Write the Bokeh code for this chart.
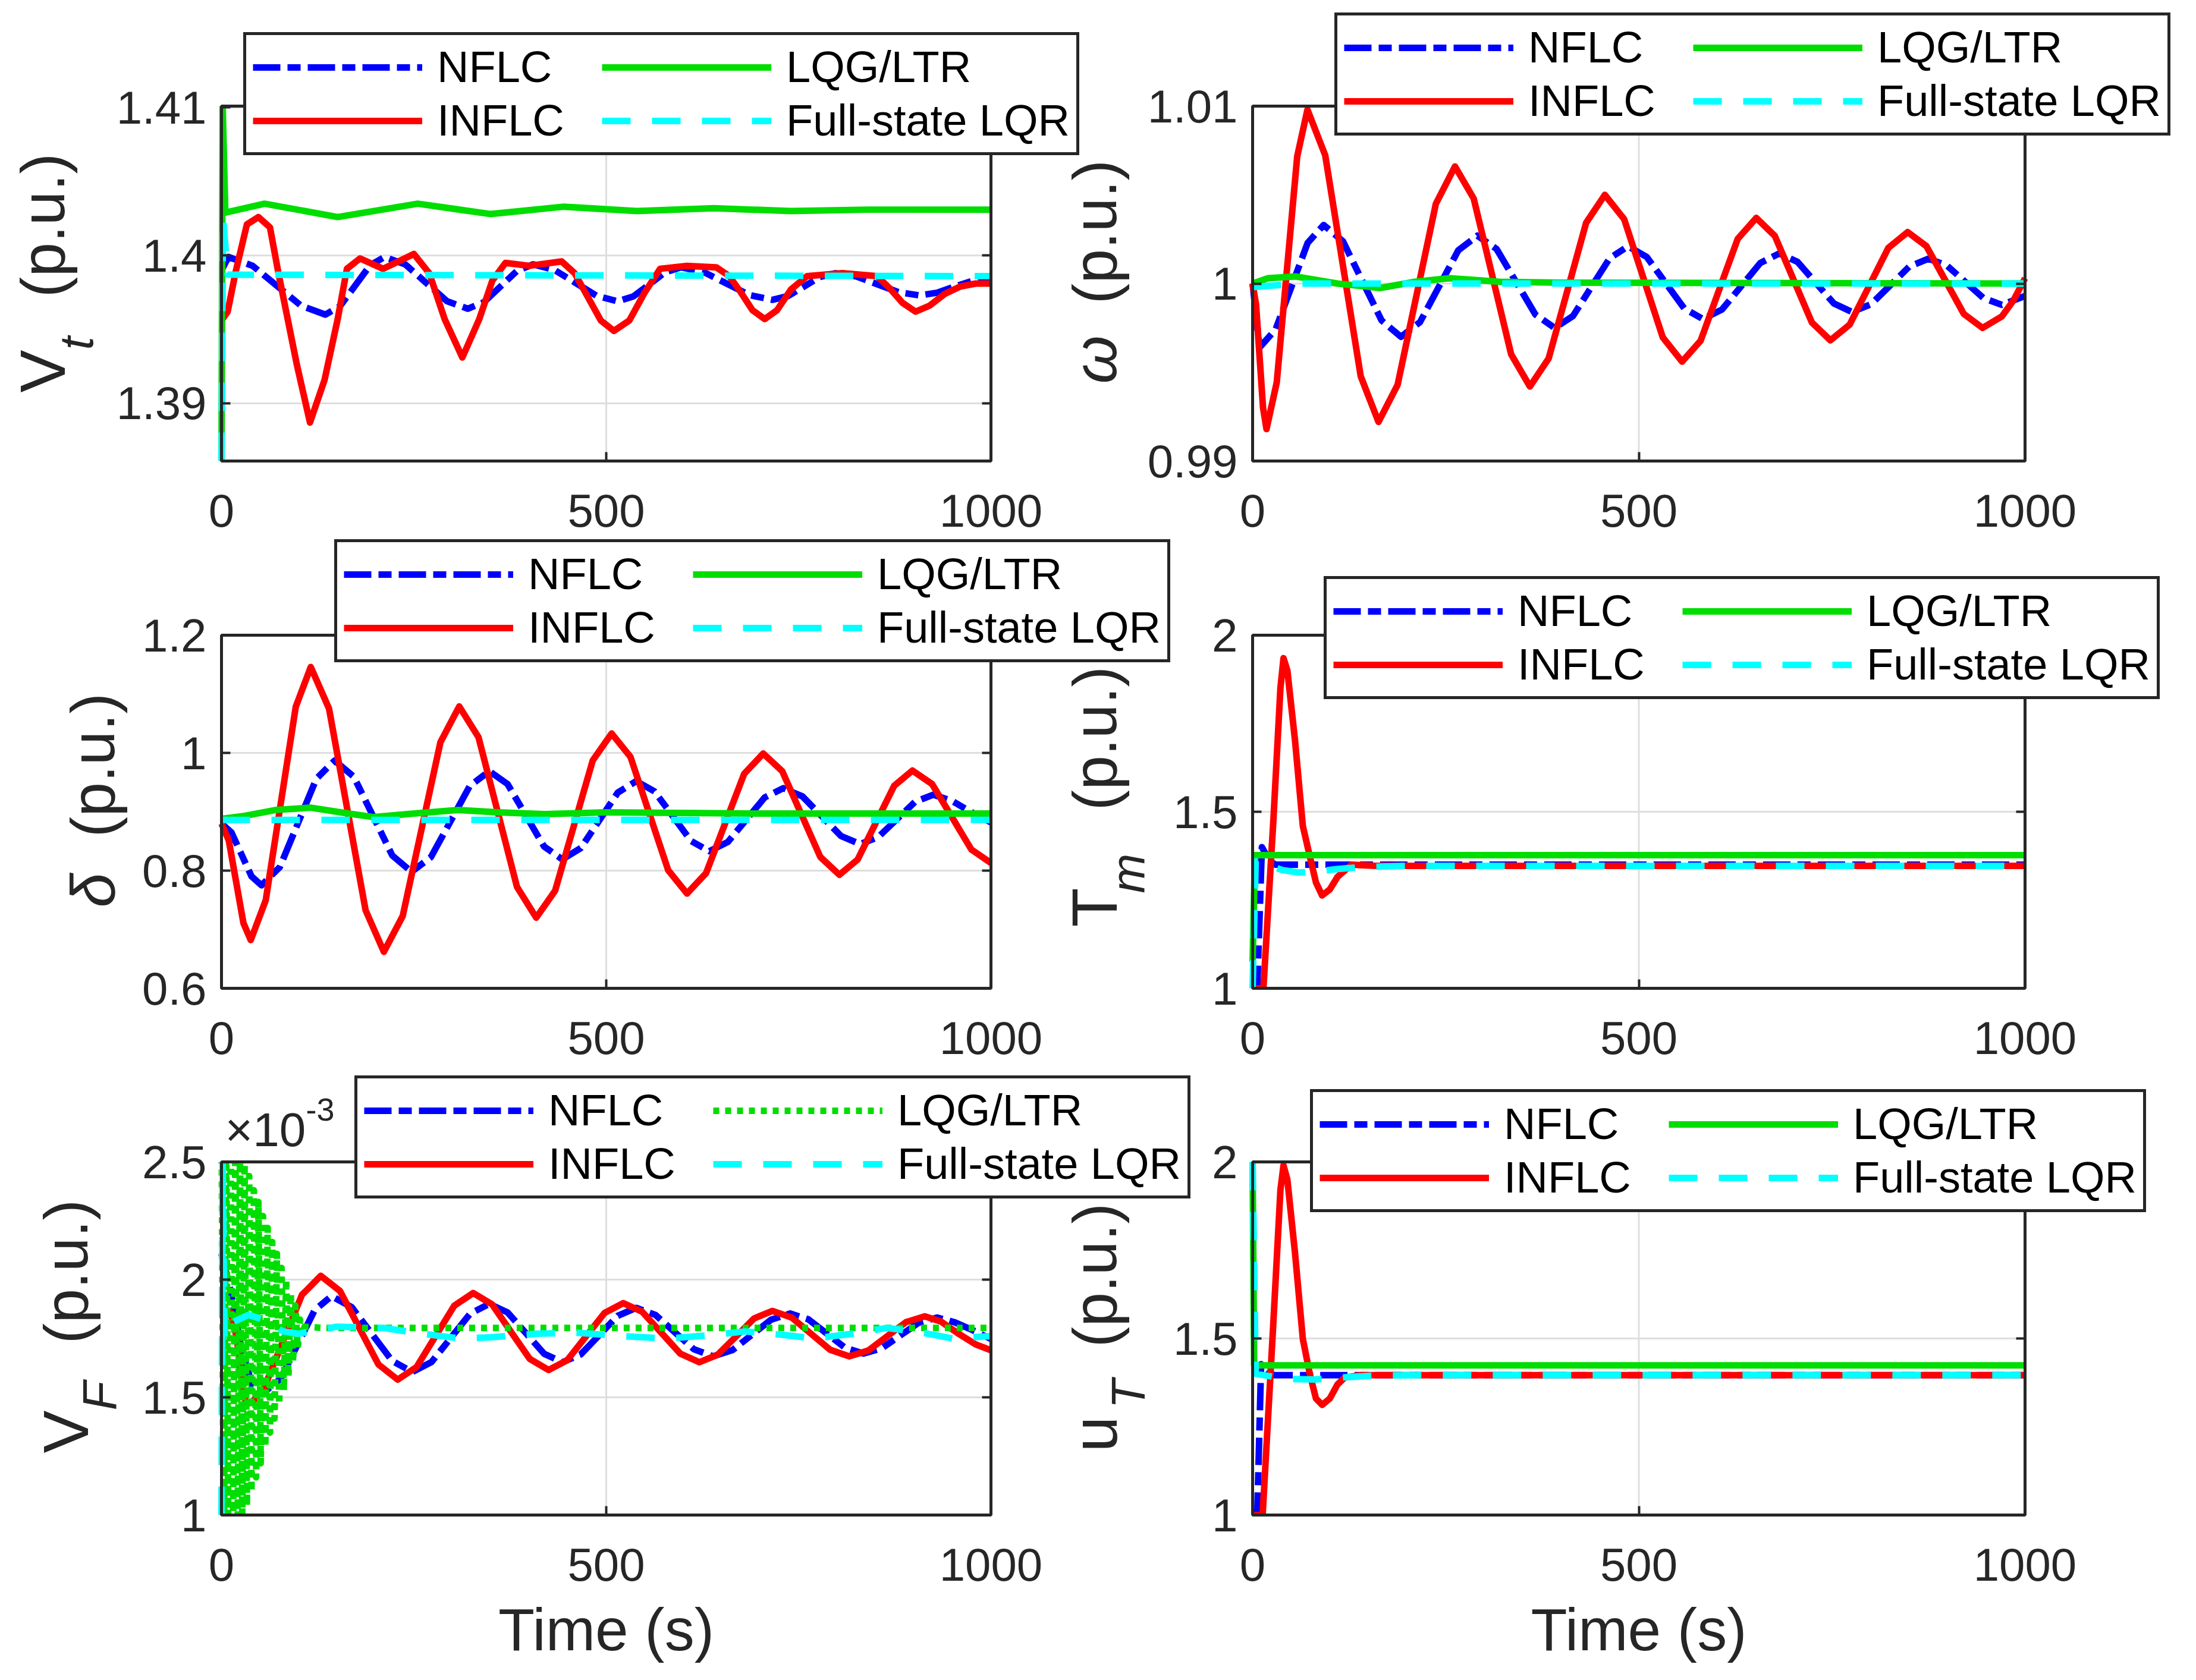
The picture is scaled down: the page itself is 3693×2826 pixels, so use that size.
from math import pi

from bokeh.embed import file_html
from bokeh.layouts import column, row
from bokeh.models import BoxAnnotation, FixedTicker, Label, Legend, LegendItem, LinearAxis, Range1d
from bokeh.plotting import figure
from bokeh.resources import INLINE

FONT = "Liberation Sans"
DARK = "#262626"
BLUE, RED, GREEN, CYAN = "#0000FF", "#FF0000", "#00DD00", "#00FFFF"

SERIES_NAMES = ["NFLC", "INFLC", "LQG/LTR", "Full-state LQR"]

x_ticks = [0, 500, 1000]
x_tick_labels = ["0", "500", "1000"]

# ---- V_t (p.u.) ----
vt_ticks = [1.39, 1.40, 1.41]
vt_tick_labels = ["1.39", "1.4", "1.41"]
vt_nflc_t = [0, 9, 40.5, 72, 103.5, 135, 154, 173.5, 193, 212, 239, 266, 293, 320, 341, 362.5, 384, 405,
             432.5, 460, 487.5, 515, 535.5, 556, 576.5, 597, 626.75, 656.5, 686.25, 716, 736.5, 757, 777.5,
             798, 825.25, 852.5, 879.75, 907, 930, 953, 977, 1000]
vt_nflc = [1.3990, 1.3999, 1.3993, 1.39795, 1.3966, 1.3960, 1.39657, 1.39795, 1.39933, 1.3999, 1.39939,
           1.39815, 1.39691, 1.3964, 1.39684, 1.3979, 1.39896, 1.3994, 1.39903, 1.39815, 1.39727, 1.3969,
           1.39724, 1.39805, 1.39886, 1.3992, 1.39888, 1.3981, 1.39732, 1.3970, 1.39726, 1.3979, 1.39854,
           1.3988, 1.39858, 1.39805, 1.39752, 1.3973, 1.39748, 1.3979, 1.3983, 1.3985]
vt_inflc_t = [0, 8, 18, 33, 48, 63, 74, 86, 98, 115, 134, 151, 163, 180, 210, 230, 250, 270, 290, 313, 335,
              352, 369, 400, 442, 459, 476, 493, 510, 530, 550, 570, 605, 643, 660, 675, 690, 706, 722, 740,
              761, 807, 852, 868, 885, 902, 920, 940, 960, 980, 1000]
vt_inflc = [1.3956, 1.3962, 1.3988, 1.4021, 1.4026, 1.4019, 1.3988, 1.3957, 1.3926, 1.3887, 1.3916, 1.3957,
            1.3991, 1.3998, 1.3991, 1.3996, 1.4001, 1.3988, 1.3957, 1.3931, 1.3957, 1.3983, 1.3995, 1.3993,
            1.3996, 1.3988, 1.3972, 1.3956, 1.3949, 1.3956, 1.3975, 1.3991, 1.3993, 1.3992, 1.3986, 1.3975,
            1.3963, 1.3957, 1.3963, 1.3977, 1.3986, 1.3988, 1.3986, 1.3978, 1.3968, 1.3962, 1.3966, 1.3974,
            1.3979, 1.3981, 1.3981]
vt_lqg_t = [0, 1.5, 5, 56, 151, 255, 350, 445, 540, 640, 740, 840, 1000]
vt_lqg = [1.3861, 1.4101, 1.4029, 1.4035, 1.4026, 1.4035, 1.4028, 1.4033, 1.4030, 1.4032, 1.4030, 1.4031, 1.4031]
vt_lqr_t = [0, 2, 8, 1000]
vt_lqr = [1.3861, 1.4026, 1.3987, 1.3986]

# ---- omega (p.u.) ----
w_ticks = [0.99, 1.00, 1.01]
w_tick_labels = ["0.99", "1", "1.01"]
w_nflc_t = [0, 4.5, 9, 29.75, 50.5, 71.25, 92, 117, 142, 167, 192, 216.75, 241.5, 266.25, 291, 316, 341, 366,
            391, 414.75, 438.5, 462.25, 486, 510.25, 534.5, 558.75, 583, 607.75, 632.5, 657.25, 682, 705.5,
            729, 752.5, 776, 800.75, 825.5, 850.25, 875, 898.75, 922.5, 946.25, 970, 1000]
w_nflc = [1.0000, 0.9982, 0.9964, 0.99741, 0.99985, 1.00229, 1.0033, 1.00238, 1.00015, 0.99792, 0.9970,
          0.99783, 0.99985, 1.00187, 1.0027, 1.00194, 1.0001, 0.99826, 0.9975, 0.99817, 0.9998, 1.00143,
          1.0021, 1.0015, 1.00005, 0.9986, 0.9980, 0.99854, 0.99985, 1.00116, 1.0017, 1.00122, 1.00005,
          0.99888, 0.9984, 0.99884, 0.9999, 1.00096, 1.0014, 1.00102, 1.0001, 0.99918, 0.9988, 0.9993]
w_inflc_t = [0, 4.5, 9, 13.5, 18, 31.25, 44.5, 57.75, 71, 94, 117, 140, 163, 187.75, 212.5, 237.25, 262,
             286.25, 310.5, 334.75, 359, 383.25, 407.5, 431.75, 456, 481, 506, 531, 556, 580, 604, 628, 652,
             676, 700, 724, 748, 773, 798, 823, 848, 872.25, 896.5, 920.75, 945, 970, 985, 1000]
w_inflc = [1.0000, 0.9988, 0.9959, 0.9930, 0.9918, 0.99443, 1.0008, 1.00717, 1.0098, 1.00723, 1.0010,
           0.99477, 0.9922, 0.9943, 0.9994, 1.0045, 1.0066, 1.00479, 1.0004, 0.99601, 0.9942, 0.99578,
           0.9996, 1.00342, 1.0050, 1.00363, 1.0003, 0.99697, 0.9956, 0.99678, 0.99965, 1.00252, 1.0037,
           1.00269, 1.00025, 0.99781, 0.9968, 0.99769, 0.99985, 1.00201, 1.0029, 1.00211, 1.0002, 0.99829,
           0.9975, 0.99815, 0.99905, 1.0003]
w_lqg_t = [0, 20, 56, 110, 165, 210, 255, 320, 400, 1000]
w_lqg = [1.0000, 1.0003, 1.0004, 1.0000, 0.99975, 1.0001, 1.0003, 1.0001, 1.00005, 1.0000]
w_lqr_t = [0, 60, 1000]
w_lqr = [0.9998, 1.0000, 1.0000]

# ---- delta (p.u.) ----
d_ticks = [0.6, 0.8, 1.0, 1.2]
d_tick_labels = ["0.6", "0.8", "1", "1.2"]
d_nflc_t = [0, 13, 26, 39, 52, 75.75, 99.5, 123.25, 147, 172, 197, 222, 247, 272.25, 297.5, 322.75, 348,
            371.75, 395.5, 419.25, 443, 467, 491, 515, 539, 562.75, 586.5, 610.25, 634, 658, 682, 706, 730,
            755, 780, 805, 830, 853.75, 877.5, 901.25, 925, 950, 975, 1000]
d_nflc = [0.880, 0.8647, 0.8275, 0.7903, 0.775, 0.806, 0.881, 0.956, 0.987, 0.9594, 0.8925, 0.8256, 0.798,
          0.823, 0.8835, 0.944, 0.969, 0.9471, 0.894, 0.8409, 0.819, 0.8384, 0.8855, 0.9326, 0.952, 0.9346,
          0.8925, 0.8504, 0.833, 0.8486, 0.8865, 0.9244, 0.940, 0.9261, 0.8925, 0.8589, 0.845, 0.8573,
          0.887, 0.9167, 0.929, 0.918, 0.899, 0.882]
d_inflc_t = [0, 9.5, 19, 28.5, 38, 57.5, 77, 96.5, 116, 139.75, 163.5, 187.25, 211, 235.5, 260, 284.5, 309,
             334, 359, 384, 409, 433.5, 458, 482.5, 507, 531.5, 556, 580.5, 605, 629.75, 654.5, 679.25, 704,
             728.75, 753.5, 778.25, 803, 826.75, 850.5, 874.25, 898, 923.5, 949, 974.5, 1000]
d_inflc = [0.880, 0.8511, 0.781, 0.7109, 0.682, 0.7497, 0.914, 1.0783, 1.146, 1.0753, 0.904, 0.7327, 0.662,
           0.7229, 0.8705, 1.0181, 1.079, 1.0266, 0.8995, 0.7724, 0.720, 0.7657, 0.8765, 0.9873, 1.033,
           0.9933, 0.897, 0.8007, 0.761, 0.7957, 0.880, 0.9643, 0.999, 0.9689, 0.896, 0.8231, 0.793, 0.8188,
           0.8815, 0.9442, 0.970, 0.9471, 0.8915, 0.8359, 0.813]
d_lqg_t = [0, 30, 70, 116, 160, 197, 250, 307, 360, 420, 500, 600, 700, 1000]
d_lqg = [0.888, 0.893, 0.903, 0.907, 0.898, 0.891, 0.897, 0.903, 0.899, 0.896, 0.899, 0.898, 0.897, 0.897]
d_lqr_t = [0, 1000]
d_lqr = [0.886, 0.886]

# ---- T_m (p.u.) ----
tm_ticks = [1.0, 1.5, 2.0]
tm_tick_labels = ["1", "1.5", "2"]
tm_nflc_t = [0, 6, 12, 22, 30, 1000]
tm_nflc = [1.0, 1.0, 1.40, 1.36, 1.35, 1.35]
tm_inflc_t = [0, 14, 27, 36, 40, 45, 55, 65, 74, 82, 90, 100, 110, 128, 160, 1000]
tm_inflc = [1.0, 1.0, 1.48, 1.85, 1.935, 1.90, 1.70, 1.46, 1.374, 1.30, 1.263, 1.28, 1.316, 1.35, 1.347, 1.347]
tm_lqg_t = [0, 3, 1000]
tm_lqg = [1.075, 1.377, 1.377]
tm_lqr_t = [0, 4, 20, 38, 60, 80, 110, 140, 200, 1000]
tm_lqr = [1.0, 1.36, 1.35, 1.335, 1.328, 1.33, 1.338, 1.343, 1.347, 1.347]

# ---- V_F (p.u.), x10^-3 ----
vf_ticks = [1.0, 1.5, 2.0, 2.5]
vf_tick_labels = ["1", "1.5", "2", "2.5"]
vf_nflc_t = [0, 12, 25, 40, 55, 77, 99, 121, 143, 169.25, 195.5, 221.75, 248, 273, 298, 323, 348, 371.75,
             395.5, 419.25, 443, 467, 491, 515, 539, 564, 589, 614, 639, 664, 689, 714, 739, 762.75, 786.5,
             810.25, 834, 858, 882, 906, 930, 953, 977, 1000]
vf_nflc = [2.11, 1.95, 1.72, 1.55, 1.52, 1.5799, 1.725, 1.8701, 1.93, 1.883, 1.769, 1.655, 1.608, 1.6502,
           1.7525, 1.8548, 1.897, 1.8608, 1.773, 1.6852, 1.649, 1.6827, 1.7645, 1.8463, 1.88, 1.8499, 1.777,
           1.7041, 1.674, 1.7006, 1.765, 1.8294, 1.856, 1.8312, 1.771, 1.7108, 1.686, 1.7083, 1.7625, 1.8167,
           1.839, 1.8185, 1.784, 1.748]
vf_inflc_t = [0, 12, 20, 26, 32, 40, 55.5, 80, 104.5, 129, 154, 179, 204, 229, 253.5, 278, 302.5, 327, 351.5,
              376, 400.5, 425, 449.25, 473.5, 497.75, 522, 546.75, 571.5, 596.25, 621, 644.75, 668.5, 692.25,
              716, 741, 766, 791, 816, 840.5, 865, 889.5, 914, 935, 957, 980, 1000]
vf_inflc = [1.88, 1.86, 1.75, 1.58, 1.47, 1.48, 1.541, 1.738, 1.935, 2.016, 1.9516, 1.7955, 1.6394, 1.575,
            1.6287, 1.759, 1.8893, 1.943, 1.8953, 1.7795, 1.6637, 1.616, 1.6575, 1.758, 1.8585, 1.90, 1.8634,
            1.7745, 1.6856, 1.649, 1.6808, 1.758, 1.8352, 1.867, 1.8388, 1.7705, 1.7022, 1.674, 1.6988, 1.759,
            1.8192, 1.844, 1.822, 1.772, 1.725, 1.70]
vf_lqg_t = [0, 3, 6, 9, 12, 15, 18, 21, 24, 27, 30, 33, 36, 39, 42, 45, 48, 51, 54, 57, 60, 63, 66, 69, 72,
            75, 78, 81, 84, 87, 90, 93, 96, 99, 102, 105, 108, 130, 1000]
vf_lqg = [2.77, 0.73, 2.71, 0.80, 2.66, 0.86, 2.60, 0.92, 2.55, 0.98, 2.49, 1.04, 2.44, 1.10, 2.38, 1.16,
          2.33, 1.22, 2.27, 1.29, 2.22, 1.35, 2.16, 1.41, 2.11, 1.47, 2.05, 1.53, 2.00, 1.59, 1.94, 1.65,
          1.89, 1.71, 1.83, 1.77, 1.80, 1.795, 1.795]
vf_lqr_t = [0, 1.5, 4, 15, 35, 55, 80, 100, 150, 210, 250, 310, 350, 410, 460, 520, 580, 640, 680, 730, 770,
            820, 865, 910, 950, 1000]
vf_lqr = [1.0, 2.5, 1.75, 1.82, 1.85, 1.83, 1.78, 1.77, 1.80, 1.795, 1.775, 1.75, 1.755, 1.77, 1.775, 1.76,
          1.75, 1.765, 1.78, 1.765, 1.75, 1.77, 1.795, 1.775, 1.75, 1.76]

# ---- u_T (p.u.) ----
ut_ticks = [1.0, 1.5, 2.0]
ut_tick_labels = ["1", "1.5", "2"]
ut_nflc_t = [0, 6, 11, 20, 28, 1000]
ut_nflc = [1.0, 1.0, 1.427, 1.405, 1.396, 1.396]
ut_inflc_t = [0, 13, 27, 36, 40, 45, 55, 65, 74, 82, 90, 100, 110, 119, 140, 170, 1000]
ut_inflc = [1.0, 1.0, 1.55, 1.92, 1.99, 1.95, 1.74, 1.499, 1.40, 1.33, 1.312, 1.33, 1.37, 1.389, 1.396,
            1.396, 1.396]
ut_lqg_t = [0, 2, 1000]
ut_lqg = [2.0, 1.424, 1.424]
ut_lqr_t = [0, 4, 30, 50, 80, 120, 160, 220, 1000]
ut_lqr = [2.0, 1.40, 1.39, 1.385, 1.384, 1.39, 1.395, 1.396, 1.396]

# table of panels (reading order), built from the arrays above
# ylabel pieces: (text, centre x from box left, start y from box bottom, px size, style)
PANELS = [
    dict(ylim=(1.3861, 1.4101), ticks=vt_ticks, labels=vt_tick_labels,
         series=[(vt_nflc_t, vt_nflc), (vt_inflc_t, vt_inflc), (vt_lqg_t, vt_lqg), (vt_lqr_t, vt_lqr)],
         legend=(37, 514),
         ylabel=[("V", -301, 115, 108, "normal"), ("t", -244, 187, 80, "italic"), ("(p.u.)", -301, 275, 104, "normal")]),
    dict(ylim=(0.99, 1.01), ticks=w_ticks, labels=w_tick_labels,
         series=[(w_nflc_t, w_nflc), (w_inflc_t, w_inflc), (w_lqg_t, w_lqg), (w_lqr_t, w_lqr)],
         legend=(138, 547),
         ylabel=[("ω", -266, 130, 104, "italic"), ("(p.u.)", -266, 264, 104, "normal")]),
    dict(ylim=(0.6, 1.2), ticks=d_ticks, labels=d_tick_labels,
         series=[(d_nflc_t, d_nflc), (d_inflc_t, d_inflc), (d_lqg_t, d_lqg), (d_lqr_t, d_lqr)],
         legend=(190, 548),
         ylabel=[("δ", -217, 136, 104, "italic"), ("(p.u.)", -217, 254, 104, "normal")]),
    dict(ylim=(1.0, 2.0), ticks=tm_ticks, labels=tm_tick_labels,
         series=[(tm_nflc_t, tm_nflc), (tm_inflc_t, tm_inflc), (tm_lqg_t, tm_lqg), (tm_lqr_t, tm_lqr)],
         legend=(120, 486),
         ylabel=[("T", -266, 103, 108, "normal"), ("m", -209, 160, 80, "italic"), ("(p.u.)", -266, 299, 104, "normal")]),
    dict(ylim=(1.0, 2.5), ticks=vf_ticks, labels=vf_tick_labels,
         series=[(vf_nflc_t, vf_nflc), (vf_inflc_t, vf_inflc), (vf_lqg_t, vf_lqg), (vf_lqr_t, vf_lqr)],
         legend=(224, 532), dotted_lqg=True,
         ylabel=[("V", -262, 104, 108, "normal"), ("F", -205, 176, 80, "italic"), ("(p.u.)", -262, 288, 104, "normal")]),
    dict(ylim=(1.0, 2.0), ticks=ut_ticks, labels=ut_tick_labels,
         series=[(ut_nflc_t, ut_nflc), (ut_inflc_t, ut_inflc), (ut_lqg_t, ut_lqg), (ut_lqr_t, ut_lqr)],
         legend=(97, 509),
         ylabel=[("u", -266, 106, 108, "normal"), ("T", -209, 179, 80, "italic"), ("(p.u.)", -266, 282, 104, "normal")]),
]

# canvas geometry in px: rows (height, box top, box bottom), columns (width, box left, box right)
ROWS = [(940, 178, 775), (960, 188, 782), (1040, 174, 768)]
COLS = [(2040, 372, 1666), (1960, 376, 1675)]
COL_OVERLAP = 310
ROW_OVERLAP = 60
TIME_CENTER = 80  # px above the bottom of the last row
MASK_PX = 130


def style_axis(ax, ticks, labels, show_labels=True):
    ax.ticker = FixedTicker(ticks=ticks)
    ax.major_label_overrides = {t: (lab if show_labels else "") for t, lab in zip(ticks, labels)}
    ax.axis_line_color = None
    ax.major_tick_in = 15
    ax.major_tick_out = 0
    ax.major_tick_line_width = 4
    ax.major_tick_line_color = DARK
    ax.minor_tick_line_color = None
    ax.major_label_text_font = FONT
    ax.major_label_text_font_size = "78px"
    ax.major_label_text_color = DARK


def make_panel(spec, col, rw):
    width, bx0, bx1 = COLS[col]
    height, by0, by1 = ROWS[rw]
    ymin, ymax = spec["ylim"]
    # ranges chosen so that the data box lands on the px box inside a borderless frame
    sx = 1000 / (bx1 - bx0)
    sy = (ymax - ymin) / (by1 - by0)
    xr = Range1d(-bx0 * sx, 1000 + (width - bx1) * sx)
    yr = Range1d(ymin - (height - by1) * sy, ymax + by0 * sy)
    p = figure(width=width, height=height, x_range=xr, y_range=yr,
               x_axis_type=None, y_axis_type=None,
               output_backend="svg", toolbar_location=None, tools="",
               min_border=0, min_border_left=0, min_border_right=0, min_border_top=0, min_border_bottom=0,
               border_fill_color=None, background_fill_color=None, outline_line_color=None)

    # grid lines inside the box
    p.segment(x0=x_ticks, y0=[ymin] * len(x_ticks), x1=x_ticks, y1=[ymax] * len(x_ticks),
              line_color="#DEDEDE", line_width=3, level="underlay")
    p.segment(x0=[0] * len(spec["ticks"]), y0=spec["ticks"], x1=[1000] * len(spec["ticks"]), y1=spec["ticks"],
              line_color="#DEDEDE", line_width=3, level="underlay")

    lqg_dash = "10 10" if spec.get("dotted_lqg") else "solid"
    styles = [(BLUE, "46 12 22 12"), (RED, "solid"), (GREEN, lqg_dash), (CYAN, "48 36")]
    items = []
    for name, (ts, vs), (color, dash) in zip(SERIES_NAMES, spec["series"], styles):
        r = p.line(ts, vs, line_width=11, line_color=color, line_dash=dash, line_join="round")
        items.append(LegendItem(label=name, renderers=[r]))

    # white strips so that curves do not run past the top / bottom of the box
    p.add_layout(BoxAnnotation(left=-12, right=1012, bottom=ymax, top=ymax + MASK_PX * sy,
                               fill_color="white", fill_alpha=1.0, line_color=None, level="glyph"))
    p.add_layout(BoxAnnotation(left=-12, right=1012, bottom=ymin - MASK_PX * sy, top=ymin,
                               fill_color="white", fill_alpha=1.0, line_color=None, level="glyph"))
    # axes box
    p.add_layout(BoxAnnotation(left=0, right=1000, bottom=ymin, top=ymax, fill_alpha=0.0,
                               line_color=DARK, line_alpha=1.0, line_width=5, level="guide"))

    bottom = LinearAxis(fixed_location=ymin)
    style_axis(bottom, x_ticks, x_tick_labels)
    bottom.major_label_standoff = 56
    p.add_layout(bottom, "below")
    left = LinearAxis(fixed_location=0)
    style_axis(left, spec["ticks"], spec["labels"])
    left.major_label_standoff = 25
    p.add_layout(left, "left")
    right = LinearAxis(fixed_location=1000)
    style_axis(right, spec["ticks"], spec["labels"], show_labels=False)
    p.add_layout(right, "right")

    oy = height - by1  # box bottom measured from the frame bottom
    lx, ly = spec["legend"]
    legend = Legend(items=items, location=(bx0 + lx, oy + ly), nrows=2,
                    glyph_width=285, glyph_height=40, label_width=272, label_standoff=25,
                    spacing=5, padding=11, margin=0,
                    border_line_color=DARK, border_line_alpha=1.0, border_line_width=5,
                    background_fill_color="white", background_fill_alpha=1.0,
                    label_text_font=FONT, label_text_font_size="74px", label_text_color="black")
    p.add_layout(legend)

    for text, cx, dy, size, style in spec["ylabel"]:
        p.add_layout(Label(x=bx0 + cx, y=oy + dy, x_units="screen", y_units="screen", text=text,
                           angle=pi / 2, text_align="left", text_baseline="middle", text_font=FONT,
                           text_font_size=f"{size}px", text_font_style=style, text_color=DARK))

    if spec.get("dotted_lqg"):
        fh = by1 - by0
        p.add_layout(Label(x=bx0 + 6, y=oy + fh + 54, x_units="screen", y_units="screen", text="×10",
                           text_font=FONT, text_font_size="80px", text_color=DARK, text_align="left",
                           text_baseline="middle"))
        p.add_layout(Label(x=bx0 + 142, y=oy + fh + 88, x_units="screen", y_units="screen", text="-3",
                           text_font=FONT, text_font_size="54px", text_color=DARK, text_align="left",
                           text_baseline="middle"))

    if rw == 2:
        p.add_layout(Label(x=(bx0 + bx1) / 2, y=TIME_CENTER, x_units="screen", y_units="screen",
                           text="Time (s)", text_align="center", text_baseline="middle",
                           text_font=FONT, text_font_size="100px", text_color=DARK))
    return p


rows = []
for i in range(3):
    pl = make_panel(PANELS[2 * i], 0, i)
    pr = make_panel(PANELS[2 * i + 1], 1, i)
    pr.margin = (0, 0, 0, -COL_OVERLAP)
    r = row(pl, pr, spacing=0)
    if i > 0:
        r.margin = (-ROW_OVERLAP, 0, 0, 0)
    rows.append(r)

layout = column(*rows, spacing=0)
open("out.html", "w").write(file_html(layout, INLINE, title="plot"))
